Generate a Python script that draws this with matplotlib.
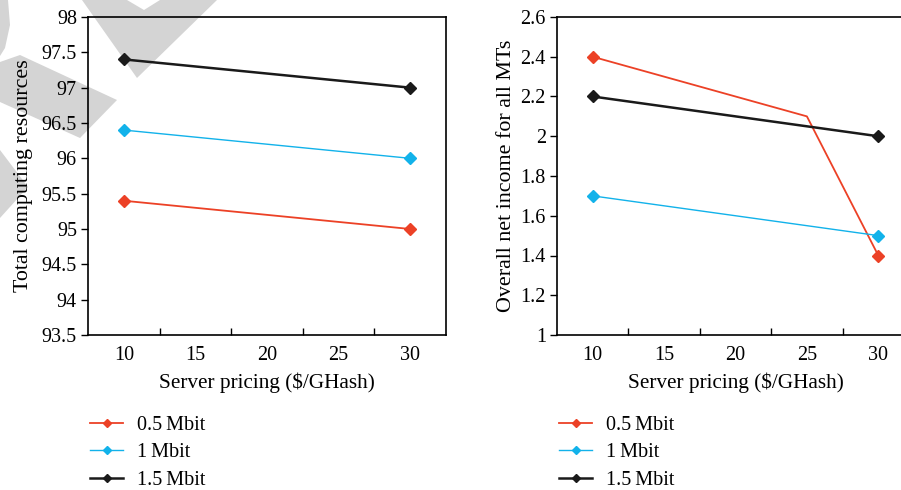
import numpy as np
import matplotlib
matplotlib.use('Agg')
import matplotlib.pyplot as plt
from matplotlib.patches import Polygon

plt.rcParams['font.family'] = ['Liberation Serif', 'DejaVu Serif']
plt.rcParams['mathtext.default'] = 'regular'

# data
series_labels = ['0.5\u2009Mbit', '1\u2009Mbit', '1.5\u2009Mbit']
colors = ['#ec4126', '#12b2ea', '#1a1a1a']
widths = [1.3, 1.0, 1.8]

x_left = [10, 30]
left_05 = [95.4, 95.0]
left_1 = [96.4, 96.0]
left_15 = [97.4, 97.0]

x_right_05 = [10, 25, 30]
right_05 = [2.4, 2.1, 1.4]
x_right = [10, 30]
right_1 = [1.7, 1.5]
right_15 = [2.2, 2.0]

x_labels = [10, 15, 20, 25, 30]
left_yticks = [93.5, 94, 94.5, 95, 95.5, 96, 96.5, 97, 97.5, 98]
right_yticks = [1, 1.2, 1.4, 1.6, 1.8, 2, 2.2, 2.4, 2.6]

W, H = 901, 490
fig = plt.figure(figsize=(W / 100, H / 100), dpi=100)

# grey watermark pieces in the top-left corner (pixel coords)
def px(pts):
    return [(x / W, 1 - y / H) for x, y in pts]

wm = [
    [(82, 0), (137, 78), (217, 0), (160, 0), (144, 10), (127, 0)],
    [(0, 62), (20, 55), (117, 100), (80, 138), (0, 102)],
    [(0, 150), (28, 187), (0, 218)],
    [(0, 0), (8, 0), (10, 25), (5, 48), (0, 56)],
]
for p in wm:
    fig.patches.append(Polygon(px(p), closed=True, transform=fig.transFigure,
                               facecolor='#d4d4d4', edgecolor='none', zorder=0))

ax1 = fig.add_axes([88 / W, 1 - 335 / H, 358 / W, 318 / H])
ax2 = fig.add_axes([557 / W, 1 - 335 / H, 357 / W, 318 / H])
ax1.set_zorder(2)
ax2.set_zorder(2)


def style(ax, yticks, ylabel, pad):
    ax.patch.set_alpha(0)
    ax.set_xlim(7.5, 32.5)
    ax.set_ylim(yticks[0], yticks[-1])
    ax.set_yticks(yticks)
    ax.set_yticklabels(['%g' % v for v in yticks])
    ax.set_xticks(x_labels)
    ax.set_xticklabels([str(v) for v in x_labels])
    ax.set_xticks([12.5, 17.5, 22.5, 27.5], minor=True)
    ax.tick_params(axis='x', which='major', length=0, pad=8, labelsize=14.5)
    ax.tick_params(axis='x', which='minor', direction='in', length=5, width=1)
    ax.tick_params(axis='y', direction='out', length=5, width=1, labelsize=14.5, pad=3)
    for s in ax.spines.values():
        s.set_linewidth(1.2)
    ax.set_xlabel('Server pricing ($/GHash)', fontsize=15.3, labelpad=5)
    ax.set_ylabel(ylabel, fontsize=15.8, labelpad=pad)


style(ax1, left_yticks, 'Total computing resources', 6)
style(ax2, right_yticks, 'Overall net income for all MTs', 3)

for ys, c, lw, lab in zip([left_05, left_1, left_15], colors, widths, series_labels):
    ax1.plot(x_left, ys, color=c, lw=lw, marker='D', ms=6.5, label=lab, clip_on=False)

ax2.plot(x_right_05, right_05, color=colors[0], lw=widths[0], marker='D', ms=6.5,
         markevery=[0, 2], label=series_labels[0], clip_on=False)
ax2.plot(x_right, right_1, color=colors[1], lw=widths[1], marker='D', ms=6.5,
         label=series_labels[1], clip_on=False)
ax2.plot(x_right, right_15, color=colors[2], lw=widths[2], marker='D', ms=6.5,
         label=series_labels[2], clip_on=False)

for ax in (ax1, ax2):
    handles, labels = ax.get_legend_handles_labels()
    ax.legend(handles, labels, loc='upper left', bbox_to_anchor=(-0.017, -0.228),
              frameon=False, fontsize=14.5, handlelength=1.65, handletextpad=0.7,
              labelspacing=0.42, borderaxespad=0, markerscale=0.6)

fig.savefig('out.png', dpi=100)
